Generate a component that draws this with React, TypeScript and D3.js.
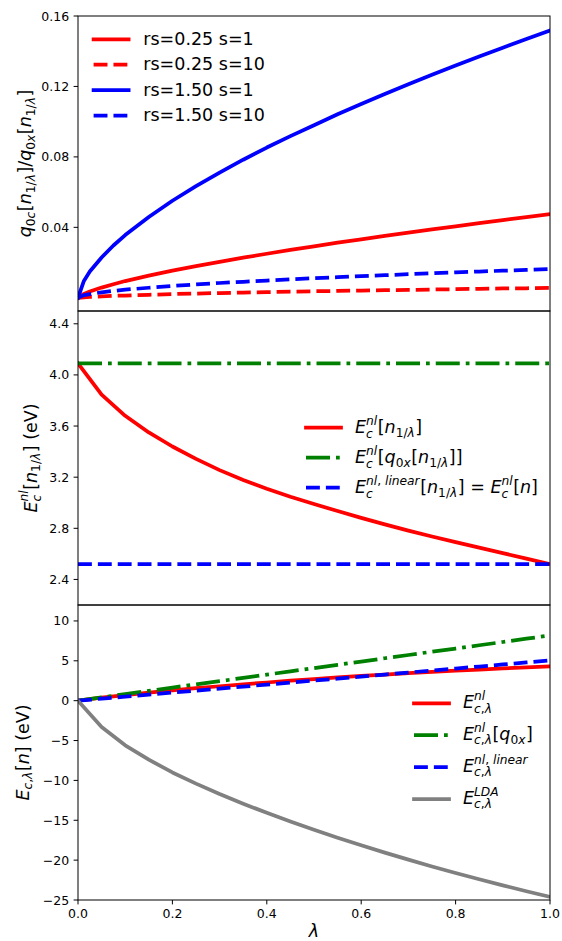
import React from 'react';
import * as d3 from 'd3';

// ---------- data ----------
const LAMBDA_TOP = [0, 0.0125, 0.025, 0.05, 0.075, 0.1, 0.15, 0.2, 0.25, 0.3, 0.35, 0.4, 0.45, 0.5, 0.55, 0.6, 0.65, 0.7, 0.75, 0.8, 0.85, 0.9, 0.95, 1.0];
const Q_RS025_S1 = [0, 0.0022, 0.0036, 0.0058, 0.0077, 0.0095, 0.0126, 0.0154, 0.018, 0.0204, 0.0228, 0.025, 0.0272, 0.0292, 0.0313, 0.0332, 0.0351, 0.037, 0.0388, 0.0406, 0.0424, 0.0441, 0.0458, 0.0475];
const Q_RS025_S10 = [0, 0.0003, 0.0005, 0.0008, 0.0011, 0.0013, 0.0017, 0.0021, 0.0024, 0.0027, 0.003, 0.0032, 0.0035, 0.0037, 0.0039, 0.0041, 0.0043, 0.0045, 0.0047, 0.0049, 0.0051, 0.0053, 0.0054, 0.0056];
const Q_RS150_S1 = [0, 0.0096, 0.0149, 0.0229, 0.0297, 0.0356, 0.0459, 0.0551, 0.0634, 0.0711, 0.0784, 0.0853, 0.0918, 0.098, 0.1042, 0.11, 0.1157, 0.1213, 0.1266, 0.1319, 0.137, 0.142, 0.147, 0.1518];
const Q_RS150_S10 = [0, 0.0015, 0.0021, 0.0031, 0.0039, 0.0046, 0.0057, 0.0067, 0.0076, 0.0084, 0.0091, 0.0098, 0.0105, 0.0111, 0.0117, 0.0123, 0.0128, 0.0134, 0.0139, 0.0144, 0.0149, 0.0154, 0.0158, 0.0163];

const LAMBDA = [0, 0.05, 0.1, 0.15, 0.2, 0.25, 0.3, 0.35, 0.4, 0.45, 0.5, 0.55, 0.6, 0.65, 0.7, 0.75, 0.8, 0.85, 0.9, 0.95, 1.0];
const ENL_N1L = [4.09, 3.845, 3.68, 3.55, 3.44, 3.343, 3.255, 3.178, 3.11, 3.047, 2.99, 2.935, 2.882, 2.831, 2.782, 2.736, 2.692, 2.649, 2.606, 2.563, 2.52];
const ENL_Q0X = [4.09, 4.09, 4.09, 4.09, 4.09, 4.09, 4.09, 4.09, 4.09, 4.09, 4.09, 4.09, 4.09, 4.09, 4.09, 4.09, 4.09, 4.09, 4.09, 4.09, 4.09];
const ENL_LINEAR = [2.52, 2.52, 2.52, 2.52, 2.52, 2.52, 2.52, 2.52, 2.52, 2.52, 2.52, 2.52, 2.52, 2.52, 2.52, 2.52, 2.52, 2.52, 2.52, 2.52, 2.52];

const ECL_NL = [0, 0.38, 0.71, 1.02, 1.3, 1.56, 1.81, 2.05, 2.28, 2.5, 2.71, 2.91, 3.1, 3.28, 3.45, 3.61, 3.76, 3.9, 4.04, 4.17, 4.3];
const ECL_NL_Q0X = [0, 0.41, 0.82, 1.23, 1.64, 2.05, 2.45, 2.86, 3.27, 3.68, 4.09, 4.5, 4.91, 5.32, 5.73, 6.14, 6.54, 6.95, 7.36, 7.77, 8.18];
const ECL_NL_LINEAR = [0, 0.25, 0.5, 0.76, 1.01, 1.26, 1.51, 1.76, 2.02, 2.27, 2.52, 2.77, 3.02, 3.28, 3.53, 3.78, 4.03, 4.28, 4.54, 4.79, 5.04];
const ECL_LDA = [0, -3.3, -5.6, -7.4, -9.0, -10.4, -11.7, -12.92, -14.07, -15.16, -16.2, -17.19, -18.14, -19.06, -19.94, -20.79, -21.61, -22.4, -23.16, -23.9, -24.61];

const TOP_TICKS = [0.04, 0.08, 0.12, 0.16];
const MID_TICKS = [2.4, 2.8, 3.2, 3.6, 4.0, 4.4];
const BOT_TICKS = [-25, -20, -15, -10, -5, 0, 5, 10];
const X_TICKS = [0, 0.2, 0.4, 0.6, 0.8, 1.0];
const TOP_LEGEND = ['rs=0.25 s=1', 'rs=0.25 s=10', 'rs=1.50 s=1', 'rs=1.50 s=10'];

// ---------- layout ----------
const W = 562, H = 941;
const L = 78, R = 550;
const P1 = [16, 311], P2 = [311, 605], P3 = [605, 900];
const FONT = '"DejaVu Sans", sans-serif';
const FS = 17.5, TFS = 12.5, LW = 3.75;
const DASH = `${3.7 * LW},${1.6 * LW}`;
const DASHDOT = `${6.4 * LW},${1.6 * LW},${1 * LW},${1.6 * LW}`;

const x = d3.scaleLinear().domain([0, 1]).range([L, R]);
const yTop = d3.scaleLinear().domain([-0.0075, 0.16]).range([P1[1], P1[0]]);
const yMid = d3.scaleLinear().domain([2.2, 4.5]).range([P2[1], P2[0]]);
const yBot = d3.scaleLinear().domain([-25, 12]).range([P3[1], P3[0]]);

// ---------- mathtext helper ----------
type Piece = { t: string; it?: boolean };
type Tok = { k: 'b'; t: string; it?: boolean } | { k: 's'; sub?: Piece[]; sup?: Piece[] };
const I = (t: string): Tok => ({ k: 'b', t, it: true });
const Rm = (t: string): Tok => ({ k: 'b', t });
const S = (sub?: Piece[], sup?: Piece[]): Tok => ({ k: 's', sub, sup });
const i = (t: string): Piece => ({ t, it: true });
const r = (t: string): Piece => ({ t });

let ctx: CanvasRenderingContext2D | null = null;
function measure(t: string, size: number, it?: boolean) {
  if (!ctx) ctx = document.createElement('canvas').getContext('2d');
  if (!ctx) return t.length * size * 0.6;
  ctx.font = `${it ? 'italic ' : ''}${size}px "DejaVu Sans"`;
  return ctx.measureText(t).width;
}

function layout(toks: Tok[], fs: number) {
  const items: { x: number; dy: number; size: number; it?: boolean; t: string }[] = [];
  let cx = 0;
  for (const tk of toks) {
    if (tk.k === 'b') {
      items.push({ x: cx, dy: 0, size: fs, it: tk.it, t: tk.t });
      cx += measure(tk.t, fs, tk.it);
    } else {
      const ss = fs * 0.7;
      const both = !!(tk.sub && tk.sup);
      let w = 0;
      if (tk.sup) {
        let xx = cx;
        for (const p of tk.sup) {
          items.push({ x: xx, dy: -(both ? 0.47 : 0.42) * fs, size: ss, it: p.it, t: p.t });
          xx += measure(p.t, ss, p.it);
        }
        w = Math.max(w, xx - cx);
      }
      if (tk.sub) {
        let xx = cx;
        for (const p of tk.sub) {
          items.push({ x: xx, dy: (both ? 0.24 : 0.2) * fs, size: ss, it: p.it, t: p.t });
          xx += measure(p.t, ss, p.it);
        }
        w = Math.max(w, xx - cx);
      }
      cx += w + fs * 0.03;
    }
  }
  return { items, width: cx };
}

function MathText({ toks, x0, y0, fs = FS, anchor = 'start', rotate = false }: { toks: Tok[]; x0: number; y0: number; fs?: number; anchor?: string; rotate?: boolean }) {
  const { items, width } = layout(toks, fs);
  const off = anchor === 'middle' ? -width / 2 : 0;
  const bx = rotate ? 0 : x0;
  const by = rotate ? 0 : y0;
  const txt = (
    <text fontFamily={FONT} fill="#000" style={{ whiteSpace: 'pre' }}>
      {items.map((it, k) => (
        <tspan key={k} x={bx + off + it.x} y={by + it.dy} fontSize={it.size} fontStyle={it.it ? 'italic' : 'normal'}>{it.t}</tspan>
      ))}
    </text>
  );
  if (rotate) return <g transform={`translate(${x0},${y0}) rotate(-90)`}>{txt}</g>;
  return txt;
}

const N1L: Piece[] = [r('1'), r('/'), i('λ')];

const YLABEL_TOP: Tok[] = [I('q'), S([r('0'), i('c')]), Rm('['), I('n'), S(N1L), Rm(']'), Rm('/'), I('q'), S([r('0'), i('x')]), Rm('['), I('n'), S(N1L), Rm(']')];
const YLABEL_MID: Tok[] = [I('E'), S([i('c')], [i('nl')]), Rm('['), I('n'), S(N1L), Rm(']'), Rm(' (eV)')];
const YLABEL_BOT: Tok[] = [I('E'), S([i('c'), r(','), i('λ')]), Rm('['), I('n'), Rm(']'), Rm(' (eV)')];

const MID_LEG: Tok[][] = [
  [I('E'), S([i('c')], [i('nl')]), Rm('['), I('n'), S(N1L), Rm(']')],
  [I('E'), S([i('c')], [i('nl')]), Rm('['), I('q'), S([r('0'), i('x')]), Rm('['), I('n'), S(N1L), Rm(']]')],
  [I('E'), S([i('c')], [i('nl'), r(', '), i('linear')]), Rm('['), I('n'), S(N1L), Rm(']'), Rm(' = '), I('E'), S([i('c')], [i('nl')]), Rm('['), I('n'), Rm(']')],
];
const CL: Piece[] = [i('c'), r(','), i('λ')];
const BOT_LEG: Tok[][] = [
  [I('E'), S(CL, [i('nl')])],
  [I('E'), S(CL, [i('nl')]), Rm('['), I('q'), S([r('0'), i('x')]), Rm(']')],
  [I('E'), S(CL, [i('nl'), r(', '), i('linear')])],
  [I('E'), S(CL, [i('LDA')])],
];

type Series = { xs: number[]; ys: number[]; color: string; dash?: string };

function Lines({ series, y, clip }: { series: Series[]; y: d3.ScaleLinear<number, number>; clip: string }) {
  return (
    <g clipPath={`url(#${clip})`}>
      {series.map((s, k) => {
        const pts = s.xs.map((xv, j) => [xv, s.ys[j]] as [number, number]);
        const d = d3.line<[number, number]>().x(p => x(p[0])).y(p => y(p[1]))(pts) || '';
        return <path key={k} d={d} fill="none" stroke={s.color} strokeWidth={LW} strokeDasharray={s.dash} strokeLinecap={s.dash ? 'butt' : 'square'} strokeLinejoin="round" />;
      })}
    </g>
  );
}

function YTicks({ ticks, y, fmt }: { ticks: number[]; y: d3.ScaleLinear<number, number>; fmt: (v: number) => string }) {
  return (
    <g>
      {ticks.map((t, k) => (
        <g key={k}>
          <line x1={L - 4.4} x2={L} y1={y(t)} y2={y(t)} stroke="#000" strokeWidth={1} />
          <text x={L - 8.8} y={y(t) + 4.55} textAnchor="end" fontFamily={FONT} fontSize={TFS} fill="#000">{fmt(t)}</text>
        </g>
      ))}
    </g>
  );
}

function LegendRow({ x0, yc, color, dash, children }: { x0: number; yc: number; color: string; dash?: string; children: React.ReactNode }) {
  return (
    <g>
      <line x1={x0} x2={x0 + 2 * FS} y1={yc} y2={yc} stroke={color} strokeWidth={LW} strokeDasharray={dash} strokeLinecap={dash ? 'butt' : 'square'} />
      {children}
    </g>
  );
}

export default function App() {
  const minus = (s: string) => s.replace('-', '\u2212');
  const topSeries: Series[] = [
    { xs: LAMBDA_TOP, ys: Q_RS025_S1, color: '#ff0000' },
    { xs: LAMBDA_TOP, ys: Q_RS025_S10, color: '#ff0000', dash: DASH },
    { xs: LAMBDA_TOP, ys: Q_RS150_S1, color: '#0000ff' },
    { xs: LAMBDA_TOP, ys: Q_RS150_S10, color: '#0000ff', dash: DASH },
  ];
  const midSeries: Series[] = [
    { xs: LAMBDA, ys: ENL_N1L, color: '#ff0000' },
    { xs: LAMBDA, ys: ENL_Q0X, color: '#008000', dash: DASHDOT },
    { xs: LAMBDA, ys: ENL_LINEAR, color: '#0000ff', dash: DASH },
  ];
  const botSeries: Series[] = [
    { xs: LAMBDA, ys: ECL_NL, color: '#ff0000' },
    { xs: LAMBDA, ys: ECL_NL_Q0X, color: '#008000', dash: DASHDOT },
    { xs: LAMBDA, ys: ECL_NL_LINEAR, color: '#0000ff', dash: DASH },
    { xs: LAMBDA, ys: ECL_LDA, color: '#808080' },
  ];
  const topStyles = topSeries.map(s => ({ color: s.color, dash: s.dash }));
  const midStyles = midSeries.map(s => ({ color: s.color, dash: s.dash }));
  const botStyles = botSeries.map(s => ({ color: s.color, dash: s.dash }));

  return (
    <svg width={W} height={H} style={{ position: 'absolute', left: 0, top: 0, display: 'block', background: '#fff' }}>
      <defs>
        {[P1, P2, P3].map((p, k) => (
          <clipPath id={`clip${k}`} key={k}>
            <rect x={L} y={p[0]} width={R - L} height={p[1] - p[0]} />
          </clipPath>
        ))}
      </defs>
      <rect x={0} y={0} width={W} height={H} fill="#fff" />

      <Lines series={topSeries} y={yTop} clip="clip0" />
      <Lines series={midSeries} y={yMid} clip="clip1" />
      <Lines series={botSeries} y={yBot} clip="clip2" />

      {[P1, P2, P3].map((p, k) => (
        <rect key={k} x={L} y={p[0]} width={R - L} height={p[1] - p[0]} fill="none" stroke="#000" strokeWidth={1} />
      ))}

      <YTicks ticks={TOP_TICKS} y={yTop} fmt={d3.format('.2f')} />
      <YTicks ticks={MID_TICKS} y={yMid} fmt={d3.format('.1f')} />
      <YTicks ticks={BOT_TICKS} y={yBot} fmt={v => minus(String(v))} />

      {X_TICKS.map((t, k) => (
        <g key={k}>
          <line x1={x(t)} x2={x(t)} y1={P3[1]} y2={P3[1] + 4.4} stroke="#000" strokeWidth={1} />
          <text x={x(t)} y={917.6} textAnchor="middle" fontFamily={FONT} fontSize={TFS} fill="#000">{d3.format('.1f')(t)}</text>
        </g>
      ))}

      <MathText toks={YLABEL_TOP} x0={31} y0={(P1[0] + P1[1]) / 2} anchor="middle" rotate />
      <MathText toks={YLABEL_MID} x0={36.5} y0={(P2[0] + P2[1]) / 2} anchor="middle" rotate />
      <MathText toks={YLABEL_BOT} x0={28.5} y0={(P3[0] + P3[1]) / 2} anchor="middle" rotate />
      <MathText toks={[I('λ')]} x0={(L + R) / 2} y0={936.5} anchor="middle" />

      {TOP_LEGEND.map((lab, k) => {
        const yc = 39.3 + k * 25.4;
        return (
          <LegendRow key={k} x0={93.6} yc={yc} color={topStyles[k].color} dash={topStyles[k].dash}>
            <text x={143.3} y={yc + 5.7} fontFamily={FONT} fontSize={FS} fill="#000">{lab}</text>
          </LegendRow>
        );
      })}
      {MID_LEG.map((toks, k) => {
        const yc = 427.7 + k * 30;
        return (
          <LegendRow key={k} x0={306} yc={yc} color={midStyles[k].color} dash={midStyles[k].dash}>
            <MathText toks={toks} x0={355} y0={yc + 5.6} />
          </LegendRow>
        );
      })}
      {BOT_LEG.map((toks, k) => {
        const yc = 703.3 + k * 31.9;
        return (
          <LegendRow key={k} x0={414} yc={yc} color={botStyles[k].color} dash={botStyles[k].dash}>
            <MathText toks={toks} x0={463} y0={yc + 5} />
          </LegendRow>
        );
      })}
    </svg>
  );
}
